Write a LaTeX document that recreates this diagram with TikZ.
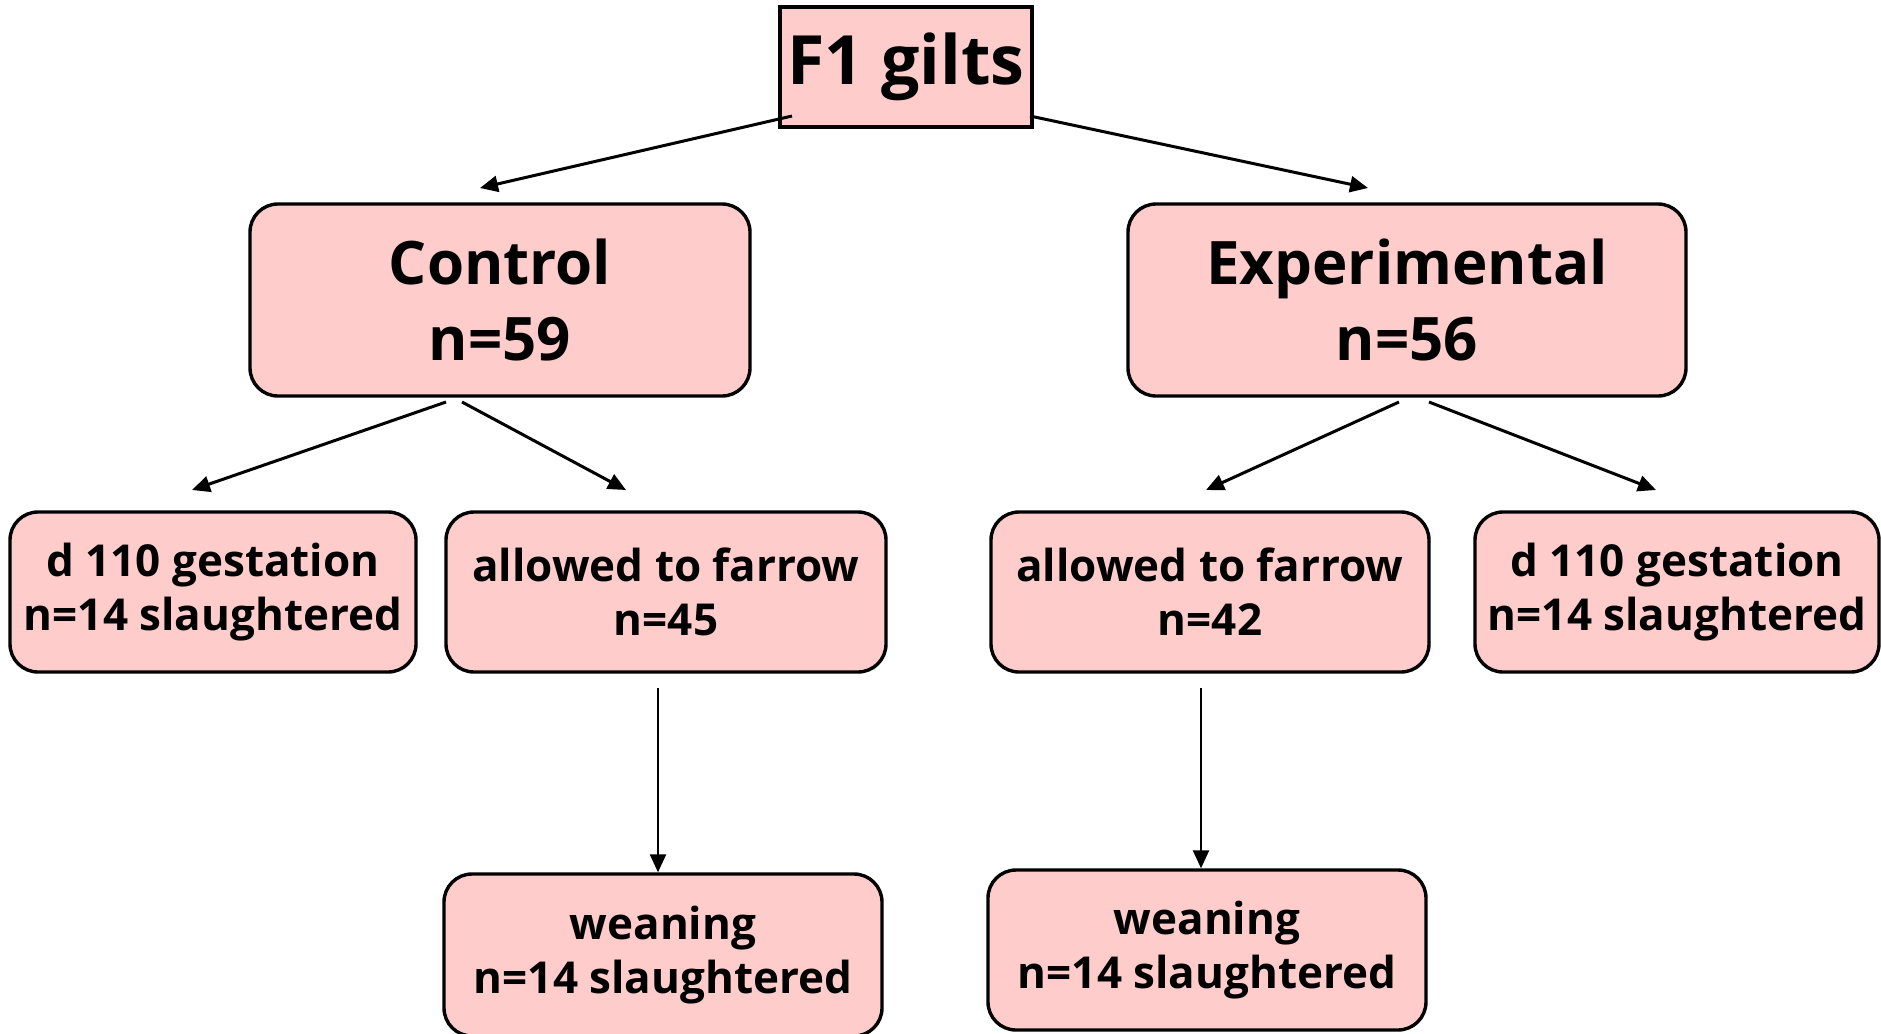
\documentclass[tikz,border=0pt]{standalone}
\usepackage{fontspec}
\setmainfont{Open Sans}
\usetikzlibrary{arrows.meta}

\definecolor{boxpink}{HTML}{FFCCCC}

\tikzset{
  stagebox/.style={draw=black, line width=1.7pt, fill=boxpink, rounded corners=14pt,
    inner sep=0pt, align=center, font=\bfseries\fontsize{22}{27}\selectfont},
  groupbox/.style={stagebox, font=\bfseries\fontsize{30}{38}\selectfont},
  flow/.style={-{Triangle[length=9pt,width=8pt]}, line width=1.5pt}
}

\begin{document}
\begin{tikzpicture}[x=0.5pt,y=-0.5pt]
      \useasboundingbox (0,0) rectangle (1881,1034);
      % boxes
      \node[draw=black, line width=1.7pt, fill=boxpink, inner sep=0pt,
        minimum width=126pt, minimum height=60pt,
        font=\bfseries\fontsize{34}{40}\selectfont] (gilts) at (906,67) {F1 gilts};
      \node[groupbox, minimum width=250pt, minimum height=96pt] (control) at (500,300) {Control\\n=59};
      \node[groupbox, minimum width=279pt, minimum height=96pt] (exper) at (1407,300) {Experimental\\n=56};
      \node[stagebox, minimum width=203pt, minimum height=80pt] (cgest) at (213,592) {d 110 gestation\\n=14 slaughtered};
      \node[stagebox, minimum width=220pt, minimum height=80pt] (cfarrow) at (666,592) {allowed to farrow\\n=45};
      \node[stagebox, minimum width=219pt, minimum height=80pt] (efarrow) at (1210,592) {allowed to farrow\\n=42};
      \node[stagebox, minimum width=202pt, minimum height=80pt] (egest) at (1677,592) {d 110 gestation\\n=14 slaughtered};
      \node[stagebox, minimum width=219pt, minimum height=81pt] (cwean) at (663,955) {weaning\\n=14 slaughtered};
      \node[stagebox, minimum width=219pt, minimum height=80pt] (ewean) at (1207,950) {weaning\\n=14 slaughtered};
      % arrow ends
      \coordinate (gl) at (792,116);
      \coordinate (gr) at (1030,116);
      \coordinate (cl) at (446,402);
      \coordinate (cr) at (462,402);
      \coordinate (el) at (1399,402);
      \coordinate (er) at (1429,402);
      \draw[flow] (gl) -- (480,188);
      \draw[flow] (gr) -- (1368,188);
      \draw[flow] (cl) -- (192,490);
      \draw[flow] (cr) -- (626,490);
      \draw[flow] (el) -- (1206,490);
      \draw[flow] (er) -- (1656,490);
      \draw[flow, line width=1.2pt] ([yshift=-7pt]cfarrow.south -| 658,0) -- (cwean.north -| 658,0);
      \draw[flow, line width=1.2pt] ([yshift=-7pt]efarrow.south -| 1201,0) -- (ewean.north -| 1201,0);
    \end{tikzpicture}
\end{document}
